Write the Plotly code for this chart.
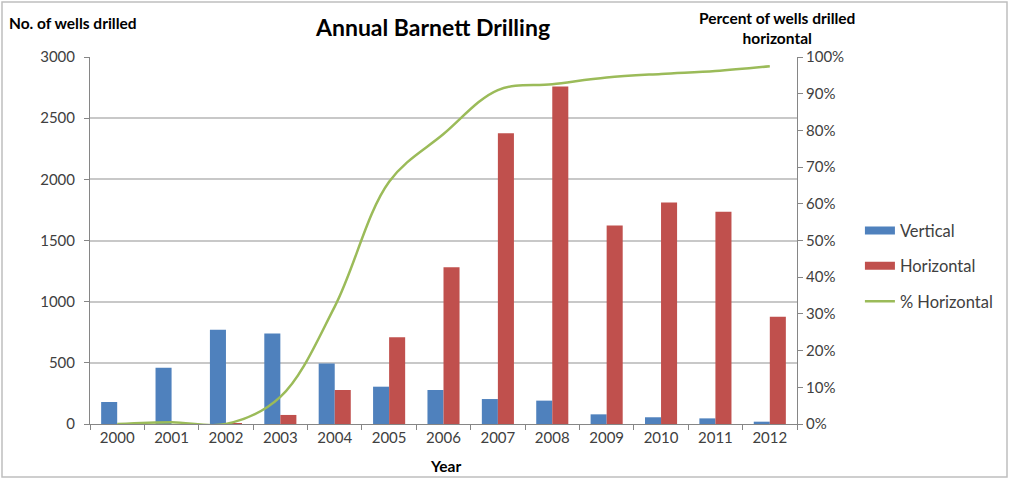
import plotly.graph_objects as go

# Annual Barnett Shale well counts by well type, plus share drilled horizontally
years = ["2000", "2001", "2002", "2003", "2004", "2005", "2006",
         "2007", "2008", "2009", "2010", "2011", "2012"]
vertical = [180, 460, 770, 740, 495, 305, 278, 204, 191, 79, 55, 46, 19]
horizontal = [0, 0, 8, 74, 278, 709, 1281, 2377, 2758, 1622, 1810, 1736, 877]
pct_horizontal = [0.0, 0.005, 0.0, 0.074, 0.32, 0.66, 0.79, 0.91, 0.926,
                  0.944, 0.954, 0.962, 0.975]

BLUE = "#4F81BD"
RED = "#C0504D"
GREEN = "#9BBB59"
TEXT = "#404040"
FONT = "Lato, 'Open Sans', sans-serif"

fig = go.Figure()

fig.add_trace(go.Bar(x=years, y=vertical, name="Vertical", marker_color=BLUE,
                     marker_line_width=0, showlegend=False))
fig.add_trace(go.Bar(x=years, y=horizontal, name="Horizontal", marker_color=RED,
                     marker_line_width=0, showlegend=False))
fig.add_trace(go.Scatter(x=years, y=pct_horizontal, name="% Horizontal", yaxis="y2",
                         mode="lines", line=dict(color=GREEN, width=2.5,
                                                 shape="spline", smoothing=1),
                         showlegend=False))

# Legend entries: wide swatches for the bar series, thin line for the percentage
for name, color, width, grp in [("Vertical", BLUE, 8, "a"),
                                ("Horizontal", RED, 8, "b"),
                                ("% Horizontal", GREEN, 2.5, "c")]:
    fig.add_trace(go.Scatter(x=[None], y=[None], mode="lines", name=name,
                             legendgroup=grp,
                             line=dict(color=color, width=width)))

fig.update_layout(
    width=1010, height=480,
    margin=dict(l=90, r=213, t=57, b=56),
    paper_bgcolor="white", plot_bgcolor="white",
    font=dict(family=FONT, size=15, color=TEXT),
    barmode="group", bargap=0.41, bargroupgap=0,
    xaxis=dict(type="category", showline=True, linecolor="#868686", linewidth=1,
               ticks="outside", tickson="boundaries", ticklen=5, tickcolor="#868686",
               showgrid=False, tickfont=dict(size=15, color=TEXT)),
    yaxis=dict(range=[0, 3000], dtick=500, showline=True, linecolor="#868686",
               ticks="outside", ticklen=5, tickcolor="#868686",
               showgrid=True, gridcolor="#C8C8C8", gridwidth=1.5,
               zeroline=False, tickfont=dict(size=15, color=TEXT), ticklabelstandoff=6),
    yaxis2=dict(range=[0, 1], dtick=0.1, tickformat=".0%", overlaying="y", side="right",
                showline=True, linecolor="#868686", ticks="outside", ticklen=5,
                tickcolor="#868686", showgrid=False, zeroline=False,
                tickfont=dict(size=15, color=TEXT)),
    legend=dict(x=1.089, xanchor="left", y=0.43, yanchor="middle",
                font=dict(size=16.5, color=TEXT), traceorder="grouped",
                tracegroupgap=11, bgcolor="rgba(0,0,0,0)"),
    annotations=[
        dict(text="<b>Annual Barnett Drilling</b>", xref="paper", yref="paper",
             x=(432 - 90) / 707, y=(424 - 27) / 367,
             xanchor="center", yanchor="middle", showarrow=False,
             font=dict(size=23, color="#000000", family=FONT)),
        dict(text="<b>No. of wells drilled</b>", xref="paper", yref="paper",
             x=-83 / 707, y=(424 - 23) / 367, xanchor="left", yanchor="middle",
             showarrow=False, font=dict(size=15.5, color="#000000")),
        dict(text="<b>Percent of wells drilled<br>horizontal</b>", xref="paper",
             yref="paper", x=(777 - 90) / 707, y=(424 - 28) / 367,
             xanchor="center", yanchor="middle", showarrow=False,
             font=dict(size=15.5, color="#000000")),
        dict(text="<b>Year</b>", xref="paper", yref="paper", x=(445 - 90) / 707,
             y=(424 - 466) / 367, xanchor="center", yanchor="middle",
             showarrow=False, font=dict(size=15.5, color="#000000")),
    ],
    shapes=[
        dict(type="rect", xref="paper", yref="paper",
             x0=-88 / 707, x1=(1007 - 90) / 707, y0=-53 / 367, y1=(424 - 2) / 367,
             line=dict(color="#BFBFBF", width=1.5), fillcolor="rgba(0,0,0,0)",
             layer="below"),
    ],
)

fig.write_html("out.html")
